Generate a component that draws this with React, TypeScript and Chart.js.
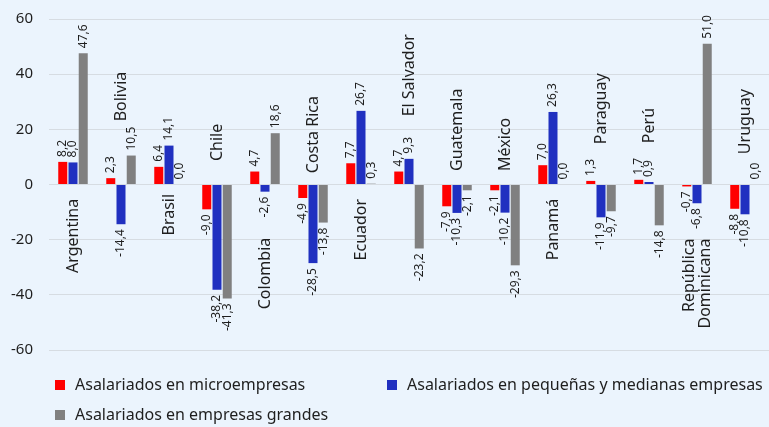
import React, { useEffect, useRef } from "react";
import { Chart, registerables } from "chart.js";

Chart.register(...registerables);

const categories: string[][] = [
  ["Argentina"], ["Bolivia"], ["Brasil"], ["Chile"], ["Colombia"], ["Costa Rica"],
  ["Ecuador"], ["El Salvador"], ["Guatemala"], ["México"], ["Panamá"], ["Paraguay"],
  ["Perú"], ["República", "Dominicana"], ["Uruguay"],
];

const seriesNames = [
  "Asalariados en microempresas",
  "Asalariados en pequeñas y medianas empresas",
  "Asalariados en empresas grandes",
];

const micro = [8.2, 2.3, 6.4, -9.0, 4.7, -4.9, 7.7, 4.7, -7.9, -2.1, 7.0, 1.3, 1.7, -0.7, -8.8];
const pymes = [8.0, -14.4, 14.1, -38.2, -2.6, -28.5, 26.7, 9.3, -10.3, -10.2, 26.3, -11.9, 0.9, -6.8, -10.8];
const grandes = [47.6, 10.5, 0.0, -41.3, 18.6, -13.8, 0.3, -23.2, -2.1, -29.3, 0.0, -9.7, -14.8, 51.0, 0.0];

// category label annotation: side of the label and anchor value (axis units)
const labelSide = ["down", "up", "down", "up", "down", "up", "down", "up", "up", "up", "down", "up", "up", "down", "up"];
const labelAnchor = [-5.2, 22.9, -3.4, 8.5, -19.3, 4.1, -5.2, 24.7, 4.9, 4.9, -5.2, 14.6, 15.0, -19.6, 11.0];

const yTicks = [-60, -40, -20, 0, 20, 40, 60];

const COLORS = ["#FF0000", "#2030C0", "#808080"];
const FONT = "'Noto Sans', 'Open Sans', sans-serif";
const TEXT = "#1e1e1e";
const SHIFT = 6;

const fmt = (v: number) => v.toFixed(1).replace(".", ",");

const labelsPlugin = {
  id: "customLabels",
  afterDatasetsDraw(chart: any) {
    const ctx = chart.ctx;
    const yScale = chart.scales.y;
    const xScale = chart.scales.x;
    ctx.save();
    ctx.fillStyle = TEXT;
    ctx.font = `12px ${FONT}`;
    ctx.textBaseline = "middle";
    chart.data.datasets.forEach((ds: any, di: number) => {
      const meta = chart.getDatasetMeta(di);
      meta.data.forEach((bar: any, i: number) => {
        const v = ds.data[i];
        ctx.save();
        ctx.translate(bar.x, bar.y + (v >= 0 ? -5 : 5));
        ctx.rotate(-Math.PI / 2);
        ctx.textAlign = v >= 0 ? "left" : "right";
        ctx.fillText(fmt(v), 0, 0);
        ctx.restore();
      });
    });
    ctx.font = `16px ${FONT}`;
    categories.forEach((lines, i) => {
      const x = xScale.getPixelForValue(i);
      const y = yScale.getPixelForValue(labelAnchor[i]);
      ctx.save();
      ctx.translate(x, y);
      ctx.rotate(-Math.PI / 2);
      ctx.textAlign = labelSide[i] === "up" ? "left" : "right";
      const lh = 16;
      lines.forEach((t, k) => {
        ctx.fillText(t, 0, (k - (lines.length - 1) / 2) * lh);
      });
      ctx.restore();
    });
    ctx.restore();
  },
  afterDraw(chart: any) {
    const ctx = chart.ctx;
    ctx.save();
    ctx.font = `16px ${FONT}`;
    ctx.textBaseline = "middle";
    ctx.textAlign = "left";
    const items = [
      { x: 55, y: 385 + SHIFT },
      { x: 387, y: 385 + SHIFT },
      { x: 55, y: 415 + SHIFT },
    ];
    items.forEach((it, i) => {
      ctx.fillStyle = COLORS[i];
      ctx.fillRect(it.x, it.y - 5, 10, 10);
      ctx.fillStyle = TEXT;
      ctx.fillText(seriesNames[i], it.x + 20, it.y);
    });
    ctx.restore();
  },
};

export default function App() {
  const ref = useRef<HTMLCanvasElement>(null);
  useEffect(() => {
    document.body.style.margin = "0";
    document.body.style.background = "#EBF4FD";
    const chart = new Chart(ref.current!, {
      type: "bar",
      data: {
        labels: categories.map((c) => c.join(" ")),
        datasets: [micro, pymes, grandes].map((d, i) => ({
          label: seriesNames[i],
          data: d,
          backgroundColor: COLORS[i],
          categoryPercentage: 0.64,
          barPercentage: 0.88,
        })),
      },
      options: {
        animation: false,
        responsive: true,
        maintainAspectRatio: false,
        layout: { padding: { top: 11, bottom: 77 + SHIFT, left: 0, right: -3 } },
        plugins: { legend: { display: false }, tooltip: { enabled: false } },
        scales: {
          x: { display: false },
          y: {
            min: -60,
            max: 60,
            afterBuildTicks: (s: any) => {
              s.ticks = yTicks.map((v) => ({ value: v }));
            },
            afterFit: (s: any) => {
              s.width = 49;
            },
            border: { display: false },
            grid: { color: "#D6DCE2", drawTicks: false, lineWidth: 1 },
            ticks: { padding: 16, color: TEXT, font: { size: 15, family: FONT } },
          },
        },
      },
      plugins: [labelsPlugin],
    });
    return () => chart.destroy();
  }, []);
  return (
    <div style={{ width: 769, height: 427, background: "#EBF4FD", overflow: "hidden", position: "relative" }}>
      <div style={{ position: "absolute", left: 0, top: -SHIFT, width: 769, height: 427 + 2 * SHIFT }}>
        <canvas ref={ref} />
      </div>
    </div>
  );
}
